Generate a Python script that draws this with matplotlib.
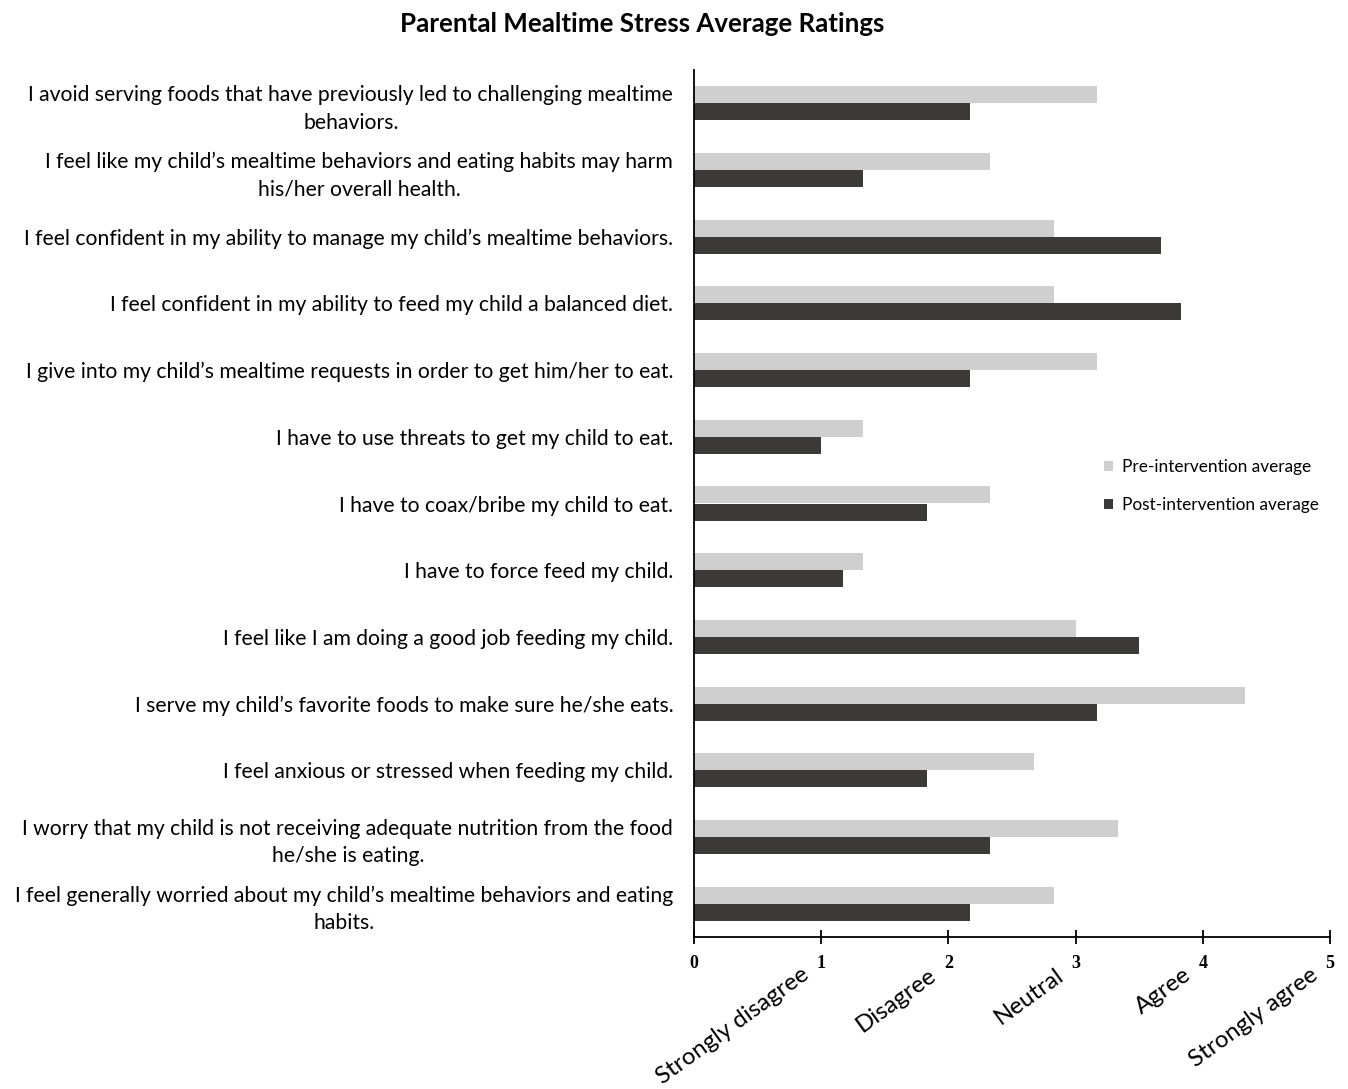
import matplotlib.pyplot as plt
import numpy as np

statements = [
    "I avoid serving foods that have previously led to challenging mealtime\nbehaviors.",
    "I feel like my child\u2019s mealtime behaviors and eating habits may harm\nhis/her overall health.",
    "I feel confident in my ability to manage my child\u2019s mealtime behaviors.",
    "I feel confident in my ability to feed my child a balanced diet.",
    "I give into my child\u2019s mealtime requests in order to get him/her to eat.",
    "I have to use threats to get my child to eat.",
    "I have to coax/bribe my child to eat.",
    "I have to force feed my child.",
    "I feel like I am doing a good job feeding my child.",
    "I serve my child\u2019s favorite foods to make sure he/she eats.",
    "I feel anxious or stressed when feeding my child.",
    "I worry that my child is not receiving adequate nutrition from the food\nhe/she is eating.",
    "I feel generally worried about my child\u2019s mealtime behaviors and eating\nhabits.",
]
pre_avg = [3.17, 2.33, 2.83, 2.83, 3.17, 1.33, 2.33, 1.33, 3.0, 4.33, 2.67, 3.33, 2.83]
post_avg = [2.17, 1.33, 3.67, 3.83, 2.17, 1.0, 1.83, 1.17, 3.5, 3.17, 1.83, 2.33, 2.17]
scale_ticks = [0, 1, 2, 3, 4, 5]
scale_names = ["Strongly disagree", "Disagree", "Neutral", "Agree", "Strongly agree"]

plt.rcParams['font.family'] = ['Lato', 'DejaVu Sans']

fig = plt.figure(figsize=(13.48, 10.89), dpi=100)
ax = fig.add_axes([694 / 1348, 1 - 937 / 1089, 636 / 1348, 867 / 1089])

y = np.arange(len(statements))
h = 0.255
ax.barh(y - h / 2, pre_avg, height=h, color='#d0cfd0', label='Pre-intervention average')
ax.barh(y + h / 2, post_avg, height=h, color='#3b3a39', label='Post-intervention average')

ax.set_xlim(0, 5)
ax.set_ylim(len(statements) - 0.5, -0.5)
ax.set_yticks(y)
ax.set_yticklabels(statements, fontsize=15.2, multialignment='center', linespacing=1.45)
ax.tick_params(axis='y', length=0, pad=15)

ax.set_xticks(scale_ticks)
ax.set_xticklabels([str(t) for t in scale_ticks], family='Liberation Serif',
                   fontweight='bold', fontsize=13)
ax.tick_params(axis='x', direction='inout', length=10, width=1.3, pad=8)

for side in ['top', 'right']:
    ax.spines[side].set_visible(False)
ax.spines['left'].set_linewidth(1.3)
ax.spines['bottom'].set_linewidth(1.3)

# rating names sit just under-left of each tick number
for t, name in zip(scale_ticks[1:], scale_names):
    ax.text(t - 0.085, -0.047, name, transform=ax.get_xaxis_transform(),
            rotation=36, rotation_mode='anchor', ha='right', va='baseline', fontsize=17.3)

ax.legend(loc='center left', bbox_to_anchor=(0.62, 0.52), frameon=False,
          fontsize=12.4, handlelength=0.55, handleheight=0.55, labelspacing=1.25,
          handletextpad=0.5)

fig.text(642 / 1348, 1 - 24 / 1089, "Parental Mealtime Stress Average Ratings",
         ha='center', va='center', fontsize=18.6, fontweight='bold')

fig.savefig('out.png', dpi=100)
